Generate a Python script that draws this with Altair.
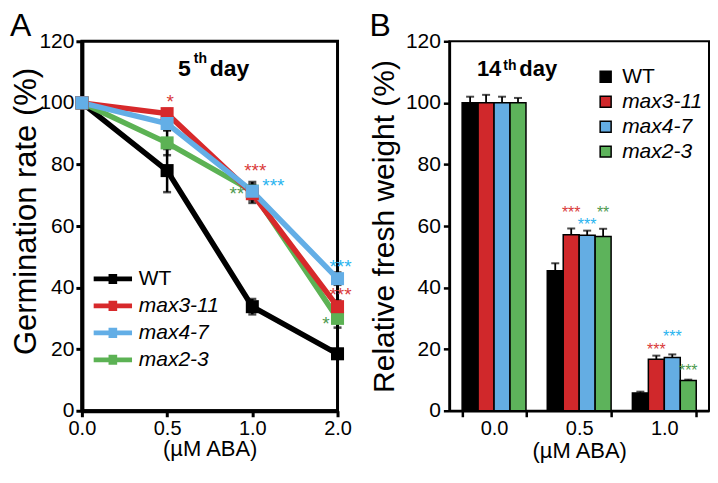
import altair as alt
import pandas as pd

FONT = "Liberation Sans"

# ---------------- data: panel A (germination, 5th day) ----------------
doses_a = ["0.0", "0.5", "1.0", "2.0"]
genotypes = ["WT", "max3-11", "max4-7", "max2-3"]
line_colors = ["#000000", "#d7292b", "#63aee6", "#5cb254"]
star_colors = {"max3-11": "#d93a3a", "max4-7": "#29b4ef", "max2-3": "#4f9a4f"}

germ = {
    "WT":      [100, 78.0, 33.8, 18.5],
    "max3-11": [100, 96.5, 70.5, 33.8],
    "max4-7":  [100, 93.3, 71.3, 42.9],
    "max2-3":  [100, 87.0, 71.3, 30.0],
}
germ_err = {
    "WT":      [0, 7.0, 2.5, 1.5],
    "max3-11": [0, 1.5, 3.0, 2.0],
    "max4-7":  [0, 2.0, 2.0, 2.0],
    "max2-3":  [0, 4.0, 3.0, 3.0],
}
draw_order_a = ["WT", "max2-3", "max3-11", "max4-7"]

stars_a_dose = ["0.5", "1.0", "1.0", "1.0", "2.0", "2.0", "2.0"]
stars_a_geno = ["max3-11", "max3-11", "max4-7", "max2-3", "max4-7", "max3-11", "max2-3"]
stars_a_text = ["*", "***", "***", "**", "***", "***", "*"]
stars_a_y = [101.5, 79.0, 74.2, 71.8, 48.0, 39.0, 29.5]
stars_a_side = ["above", "above", "right", "left", "above", "above", "left"]

# ---------------- data: panel B (fresh weight, 14th day) ----------------
doses_b = ["0.0", "0.5", "1.0"]
bar_colors = ["#000000", "#d0282b", "#64ade3", "#5db35b"]
fw = {
    "WT":      [100, 45.5, 5.8],
    "max3-11": [100, 57.2, 16.7],
    "max4-7":  [100, 57.0, 17.3],
    "max2-3":  [100, 56.6, 9.8],
}
fw_err = {
    "WT":      [2.0, 2.4, 0.4],
    "max3-11": [2.6, 2.0, 1.2],
    "max4-7":  [2.0, 1.5, 1.0],
    "max2-3":  [1.6, 2.5, 0.3],
}
stars_b_dose = ["0.5", "0.5", "0.5", "1.0", "1.0", "1.0"]
stars_b_geno = ["max3-11", "max4-7", "max2-3", "max3-11", "max4-7", "max2-3"]
stars_b_text = ["***", "***", "**", "***", "***", "***"]
stars_b_y = [65.4, 61.5, 65.4, 21.0, 25.3, 14.2]

# ---------------- tables ----------------
rows_a = []
for g in draw_order_a:
    for i, d in enumerate(doses_a):
        v = germ[g][i]
        e = germ_err[g][i]
        rows_a.append({"dose": d, "genotype": g, "value": v, "lo": v - e, "hi": v + e})
df_a = pd.DataFrame(rows_a)

df_sa = pd.DataFrame({
    "dose": stars_a_dose, "genotype": stars_a_geno, "text": stars_a_text,
    "y": stars_a_y, "side": stars_a_side,
    "scolor": [star_colors[g] for g in stars_a_geno],
})

rows_b = []
for g in genotypes:
    for i, d in enumerate(doses_b):
        v = fw[g][i]
        rows_b.append({"dose": d, "genotype": g, "value": v, "hi": v + fw_err[g][i]})
df_b = pd.DataFrame(rows_b)

df_sb = pd.DataFrame({
    "dose": stars_b_dose, "genotype": stars_b_geno, "text": stars_b_text,
    "y": stars_b_y, "scolor": [star_colors[g] for g in stars_b_geno],
})


def label_text(t, size, x, y, weight="normal", align="left", baseline="alphabetic"):
    return alt.Chart(pd.DataFrame({"t": [t]})).mark_text(
        fontSize=size, fontWeight=weight, font=FONT, align=align, baseline=baseline,
        color="black").encode(x=alt.value(x), y=alt.value(y), text="t:N")


italic_expr = alt.ExprRef(expr="datum.label == 'WT' ? 'normal' : 'italic'")

# ---------------- panel A ----------------
W_A, H_A = 256, 370
xa = alt.X("dose:N", sort=doses_a, scale=alt.Scale(type="point", padding=0),
           axis=alt.Axis(title="(µM ABA)", labelAngle=0, labelFontSize=20, titleFontSize=22,
                         titlePadding=0, labelPadding=2, domainWidth=4, tickWidth=3, tickSize=6,
                         labelFont=FONT, titleFont=FONT, titleFontWeight="normal",
                         domainColor="black", tickColor="black", labelColor="black",
                         titleColor="black"))
ya_scale = alt.Scale(domain=[0, 120], nice=False, zero=True)
ya_axis = alt.Axis(title="Germination rate (%)", values=[0, 20, 40, 60, 80, 100, 120],
                   labelFontSize=21, titleFontSize=31, titlePadding=-4, labelPadding=2,
                   titleY=170,
                   domainWidth=4, tickWidth=3, tickSize=6, grid=False,
                   labelFont=FONT, titleFont=FONT, titleFontWeight="normal",
                   domainColor="black", tickColor="black", labelColor="black",
                   titleColor="black")
color_scale_a = alt.Scale(domain=genotypes, range=line_colors)

base_a = alt.Chart(df_a)

err_a = base_a.mark_rule(color="black", strokeWidth=2.5).encode(
    x=xa, y=alt.Y("lo:Q", scale=ya_scale, axis=ya_axis), y2="hi:Q")
cap_lo = base_a.mark_tick(color="black", thickness=2.5, size=8).encode(
    x=xa, y=alt.Y("lo:Q", scale=ya_scale))
cap_hi = base_a.mark_tick(color="black", thickness=2.5, size=8).encode(
    x=xa, y=alt.Y("hi:Q", scale=ya_scale))

legend_a = alt.Legend(
    title=None, orient="none", legendX=19, legendY=226,
    labelFontSize=21, labelFont=FONT, labelColor="black",
    labelFontStyle=italic_expr,
    symbolType="M-1.6,-0.2H1.6V0.2H-1.6Z M-0.36,-0.42H0.36V0.42H-0.36Z",
    symbolSize=576, symbolStrokeWidth=0, rowPadding=5, labelOffset=14,
    symbolOpacity=1)

lines_a = base_a.mark_line(strokeWidth=5.5).encode(
    x=xa, y=alt.Y("value:Q", scale=ya_scale),
    color=alt.Color("genotype:N", scale=color_scale_a, legend=legend_a, sort=genotypes),
    detail="genotype:N")

pts_a = base_a.mark_point(shape="square", filled=True, size=170, opacity=1).encode(
    x=xa, y=alt.Y("value:Q", scale=ya_scale),
    color=alt.Color("genotype:N", scale=color_scale_a, legend=legend_a, sort=genotypes))

star_enc = dict(x=xa, y=alt.Y("y:Q", scale=ya_scale),
                text="text:N", fill=alt.Fill("scolor:N", scale=None))
stars_above = alt.Chart(df_sa).transform_filter("datum.side == 'above'").mark_text(
    fontSize=19, font=FONT, baseline="middle", align="center", dx=3, dy=4).encode(**star_enc)
stars_right = alt.Chart(df_sa).transform_filter("datum.side == 'right'").mark_text(
    fontSize=19, font=FONT, baseline="middle", align="left", dx=10, dy=4).encode(**star_enc)
stars_left = alt.Chart(df_sa).transform_filter("datum.side == 'left'").mark_text(
    fontSize=19, font=FONT, baseline="middle", align="right", dx=-8, dy=4).encode(**star_enc)

t5 = label_text("5", 23, 109, 35, weight="bold", align="right")
tth = label_text("th", 14, 112, 22, weight="bold")
tday = label_text("day", 23, 128, 35, weight="bold")
letter_a = label_text("A", 32, -72, -30, baseline="top")

panel_a = alt.layer(err_a, cap_lo, cap_hi, lines_a, pts_a, stars_above, stars_right,
                    stars_left, t5, tth, tday, letter_a).properties(
    width=W_A, height=H_A,
    view=alt.ViewBackground(stroke="black", strokeWidth=3))

# ---------------- panel B ----------------
W_B, H_B = 260, 370
xb = alt.X("dose:N", sort=doses_b, scale=alt.Scale(paddingInner=0.25, paddingOuter=0.15),
           axis=alt.Axis(title="(µM ABA)", labelAngle=0, labelFontSize=20, titleFontSize=22,
                         titlePadding=2, labelPadding=2, domainWidth=2.5, tickWidth=2.5,
                         tickSize=6, tickBand="extent",
                         labelFont=FONT, titleFont=FONT, titleFontWeight="normal",
                         domainColor="black", tickColor="black", labelColor="black",
                         titleColor="black"))
xob = alt.XOffset("genotype:N", sort=genotypes, scale=alt.Scale(paddingInner=0, paddingOuter=0))
yb_scale = alt.Scale(domain=[0, 120], nice=False, zero=True)
yb_axis = alt.Axis(title="Relative fresh weight (%)", values=[0, 20, 40, 60, 80, 100, 120],
                   labelFontSize=21, titleFontSize=30, titlePadding=6, labelPadding=3,
                   domainWidth=2.5, tickWidth=2.5, tickSize=6, grid=False,
                   labelFont=FONT, titleFont=FONT, titleFontWeight="normal",
                   domainColor="black", tickColor="black", labelColor="black",
                   titleColor="black")
legend_b = alt.Legend(
    title=None, orient="none", legendX=146, legendY=25,
    labelFontSize=21, labelFont=FONT, labelColor="black",
    labelFontStyle=italic_expr,
    symbolType="square", symbolSize=121, symbolStrokeColor="black", symbolStrokeWidth=1.5,
    rowPadding=3, labelOffset=6, symbolOpacity=1)

base_b = alt.Chart(df_b)
err_b = base_b.mark_rule(color="black", strokeWidth=1.8).encode(
    x=xb, xOffset=xob, y=alt.Y("value:Q", scale=yb_scale, axis=yb_axis), y2="hi:Q")
cap_b = base_b.mark_tick(color="black", thickness=2, size=8).encode(
    x=xb, xOffset=xob, y=alt.Y("hi:Q", scale=yb_scale))
bars_b = base_b.mark_bar(stroke="black", strokeWidth=1.5, opacity=1).encode(
    x=xb, xOffset=xob, y=alt.Y("value:Q", scale=yb_scale),
    color=alt.Color("genotype:N", scale=alt.Scale(domain=genotypes, range=bar_colors),
                    legend=legend_b, sort=genotypes))
stars_b = alt.Chart(df_sb).mark_text(fontSize=16, font=FONT, baseline="middle",
                                     align="center", dy=4).encode(
    x=xb, xOffset=xob, y=alt.Y("y:Q", scale=yb_scale), text="text:N",
    fill=alt.Fill("scolor:N", scale=None))

t14 = label_text("14", 22, 52, 35, weight="bold", align="right")
tth_b = label_text("th", 14, 54, 29, weight="bold")
tday_b = label_text("day", 22, 70, 35, weight="bold")
letter_b = label_text("B", 32, -80, -30, baseline="top")

panel_b = alt.layer(err_b, cap_b, bars_b, stars_b, t14, tth_b, tday_b, letter_b).properties(
    width=W_B, height=H_B,
    view=alt.ViewBackground(stroke="black", strokeWidth=2))

chart = alt.hconcat(panel_a, panel_b, spacing=14).resolve_scale(
    color="independent", fill="independent"
).resolve_legend(color="independent").properties(
    padding={"left": 0, "top": 0, "right": 0, "bottom": 0}
).configure_axis(grid=False).configure(background="white")

chart.save("out.html", embed_options={"renderer": "svg", "actions": False})
